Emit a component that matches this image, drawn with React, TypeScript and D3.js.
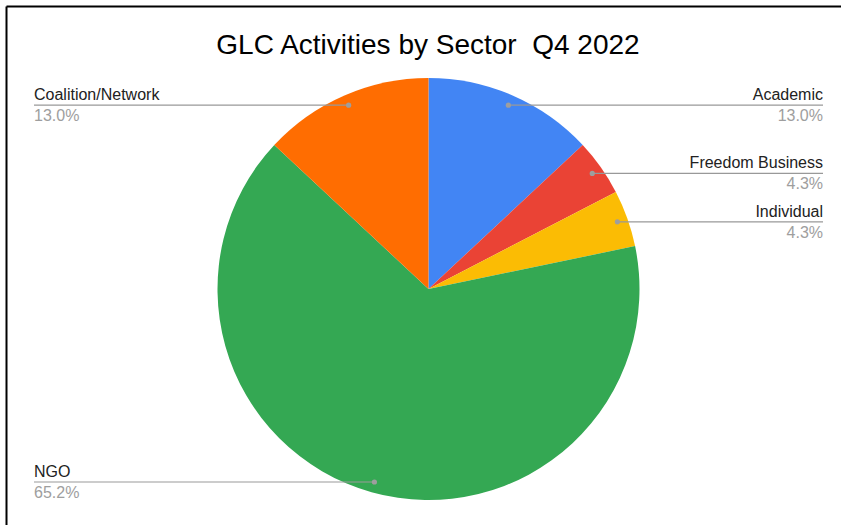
import React from "react";
import * as d3 from "d3";

const categories = ["Academic", "Freedom Business", "Individual", "NGO", "Coalition/Network"];
const counts = [3, 1, 1, 15, 3];
const colors = ["#4285F4", "#EA4335", "#FBBC04", "#34A853", "#FF6D01"];
const title = "GLC Activities by Sector  Q4 2022";

const W = 841;
const H = 525;
const cx = 428.5;
const cy = 289;
const R = 211;
const FONT = "'Liberation Sans', Arial, Helvetica, sans-serif";

export default function App() {
  const total = d3.sum(counts);
  const pie = d3.pie<number>().sort(null).value((d) => d);
  const arcs = pie(counts);
  const arcGen = d3.arc<d3.PieArcDatum<number>>().innerRadius(0).outerRadius(R);
  const fmt = d3.format(".1%");

  return (
    <div style={{ position: "fixed", left: 0, top: 0 }}>
      <svg width={W} height={H} style={{ display: "block", background: "#fff" }}>
        <line x1={6.5} y1={6.5} x2={W} y2={6.5} stroke="#000" strokeWidth={2} />
        <line x1={6.5} y1={6.5} x2={6.5} y2={H} stroke="#000" strokeWidth={2} />
        <text
          x={428}
          y={54}
          textAnchor="middle"
          fontFamily={FONT}
          fontSize={28}
          fill="#000"
          style={{ whiteSpace: "pre" }}
        >
          {title}
        </text>
        <g transform={`translate(${cx},${cy})`}>
          {arcs.map((a, i) => (
            <path key={i} d={arcGen(a) || ""} fill={colors[i]} />
          ))}
        </g>
        {arcs.map((a, i) => {
          const mid = (a.startAngle + a.endAngle) / 2;
          const rr = R * 0.95;
          const px = cx + rr * Math.sin(mid);
          const py = cy - rr * Math.cos(mid);
          const right = Math.sin(mid) > 0;
          const edge = right ? 823 : 34;
          return (
            <g key={"l" + i}>
              <line x1={px} y1={py} x2={edge} y2={py} stroke="#999" strokeWidth={1.2} />
              <circle cx={px} cy={py} r={2.6} fill="#9e9e9e" />
              <text
                x={edge}
                y={py - 5}
                textAnchor={right ? "end" : "start"}
                fontFamily={FONT}
                fontSize={16}
                fill="#222"
              >
                {categories[i]}
              </text>
              <text
                x={edge}
                y={py + 16}
                textAnchor={right ? "end" : "start"}
                fontFamily={FONT}
                fontSize={16}
                fill="#9e9e9e"
              >
                {fmt(counts[i] / total)}
              </text>
            </g>
          );
        })}
      </svg>
    </div>
  );
}
